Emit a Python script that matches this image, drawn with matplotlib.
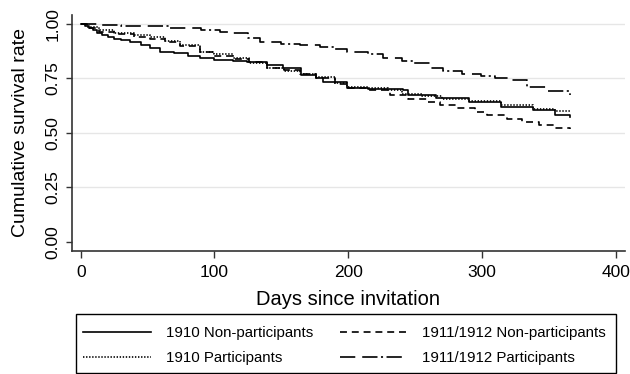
import matplotlib
matplotlib.use('Agg')
import matplotlib.pyplot as plt
import matplotlib.patches as patches

plt.rcParams['font.family'] = ['Liberation Sans', 'DejaVu Sans']
plt.rcParams['lines.scale_dashes'] = False

# Kaplan-Meier style step curves
days_1910_non = [0, 3, 6, 9, 12, 16, 20, 25, 30, 37, 45, 52, 59, 70, 80, 89, 100, 114, 124,
                 139, 151, 165, 176, 181, 199, 215, 241, 245, 266, 290, 314, 338, 355, 366]
surv_1910_non = [1.0, 0.99, 0.98, 0.97, 0.96, 0.95, 0.94, 0.93, 0.925, 0.917, 0.905, 0.89, 0.87,
                 0.865, 0.855, 0.845, 0.835, 0.83, 0.826, 0.81, 0.798, 0.765, 0.75, 0.735, 0.705,
                 0.70, 0.695, 0.675, 0.66, 0.64, 0.62, 0.605, 0.583, 0.573]

days_1910_part = [0, 5, 14, 25, 40, 52, 63, 74, 89, 100, 114, 126, 139, 152, 164, 176, 190,
                  199, 215, 230, 240, 255, 270, 290, 314, 338, 355, 366]
surv_1910_part = [1.0, 0.985, 0.972, 0.96, 0.95, 0.94, 0.92, 0.904, 0.872, 0.86, 0.844, 0.82,
                  0.798, 0.785, 0.771, 0.757, 0.73, 0.71, 0.705, 0.695, 0.68, 0.67, 0.655, 0.645,
                  0.628, 0.61, 0.60, 0.596]

days_1911_non = [0, 5, 14, 25, 40, 52, 63, 74, 89, 100, 114, 126, 139, 152, 164, 176, 190, 200,
                 215, 231, 245, 260, 269, 281, 295, 304, 319, 330, 343, 355, 366]
surv_1911_non = [1.0, 0.98, 0.965, 0.955, 0.94, 0.93, 0.915, 0.90, 0.87, 0.855, 0.84, 0.825,
                 0.80, 0.79, 0.77, 0.75, 0.725, 0.705, 0.695, 0.674, 0.655, 0.64, 0.628, 0.613,
                 0.595, 0.583, 0.564, 0.55, 0.537, 0.525, 0.518]

days_1911_part = [0, 16, 30, 67, 90, 104, 114, 125, 134, 150, 164, 179, 190, 199, 215, 226,
                  240, 249, 262, 271, 285, 299, 310, 321, 334, 349, 366]
surv_1911_part = [1.0, 0.995, 0.99, 0.98, 0.97, 0.963, 0.958, 0.935, 0.917, 0.91, 0.904, 0.894,
                  0.885, 0.872, 0.86, 0.844, 0.83, 0.82, 0.80, 0.784, 0.77, 0.761, 0.752, 0.743,
                  0.711, 0.693, 0.674]

y_ticks = [0.0, 0.25, 0.5, 0.75, 1.0]
x_ticks = [0, 100, 200, 300, 400]

fig = plt.figure(figsize=(6.3, 3.74), dpi=100)
ax = fig.add_axes([0.114, 0.329, 0.878, 0.631])

for v in y_ticks[1:]:
    ax.axhline(v, color='#e6e6e6', linewidth=1.0, zorder=0)

lw = 1.2
ax.step(days_1910_non, surv_1910_non, where='post', color='black', linewidth=lw,
        label='1910 Non-participants')
ax.step(days_1910_part, surv_1910_part, where='post', color='black', linewidth=lw,
        dashes=(1, 1.2), label='1910 Participants')
ax.step(days_1911_non, surv_1911_non, where='post', color='black', linewidth=lw,
        dashes=(5, 3.5), label='1911/1912 Non-participants')
ax.step(days_1911_part, surv_1911_part, where='post', color='black', linewidth=lw,
        dashes=(11, 5, 11, 2.5, 1.5, 2.5), label='1911/1912 Participants')

ax.set_xlim(-6.7, 407)
ax.set_ylim(-0.041, 1.041)
ax.set_xticks(x_ticks)
ax.set_yticks(y_ticks)
ax.set_yticklabels(['%.2f' % v for v in y_ticks], rotation=90, va='center')
ax.tick_params(axis='both', labelsize=12.5, width=1, color='#333333')
ax.tick_params(axis='y', length=4.3, pad=4)
ax.tick_params(axis='x', length=5, pad=5)

for side in ['top', 'right']:
    ax.spines[side].set_visible(False)
for side in ['left', 'bottom']:
    ax.spines[side].set_color('#333333')
    ax.spines[side].set_linewidth(1.2)

ax.set_xlabel('Days since invitation', fontsize=14.5)
ax.set_ylabel('Cumulative survival rate', fontsize=14)
ax.xaxis.set_label_coords(0.5, -0.165)
ax.yaxis.set_label_coords(-0.078, 0.5)

# Legend: content left-aligned inside a wider box
leg = fig.legend(loc='upper left', bbox_to_anchor=(83 / 630, 1 - 326 / 374),
                 ncol=2, fontsize=10.8, frameon=False, handlelength=4.5,
                 handletextpad=1.0, labelspacing=0.75, columnspacing=1.8,
                 borderaxespad=0, borderpad=0)
box = patches.Rectangle((76 / 630, 1 / 374), 540 / 630, 59 / 374, transform=fig.transFigure,
                        fill=False, edgecolor='black', linewidth=1.0)
fig.add_artist(box)

fig.savefig('out.png', dpi=100)
